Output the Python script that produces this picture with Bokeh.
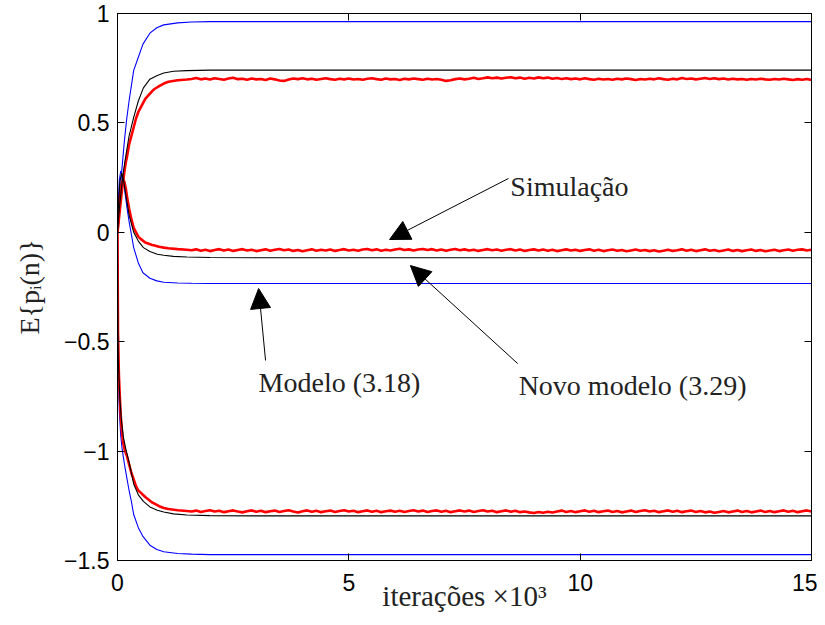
import numpy as np
from bokeh.plotting import figure
from bokeh.models import (Range1d, FixedTicker, LinearAxis, CustomJSTickFormatter,
                          Arrow, NormalHead, Label)
from bokeh.embed import file_html
from bokeh.resources import INLINE

# ---------------- data (x in thousands of iterations) ----------------
# Modelo (3.18) - blue
blue_x = [0, 0.01, 0.02, 0.04, 0.07, 0.1, 0.15, 0.2, 0.25, 0.3, 0.35, 0.45, 0.55, 0.7,
          0.85, 1.0, 1.3, 1.6, 2.0, 3.0, 15.0]
blue_top = [0, 0.04, 0.07, 0.13, 0.22, 0.3, 0.42, 0.52, 0.6, 0.67, 0.74, 0.8, 0.86, 0.91,
            0.935, 0.948, 0.957, 0.961, 0.963, 0.963, 0.963]
blue_mid = [0, 0.09, 0.15, 0.24, 0.28, 0.26, 0.2, 0.12, 0.05, -0.01, -0.07, -0.14, -0.185, -0.21,
            -0.222, -0.228, -0.232, -0.233, -0.234, -0.234, -0.234]
blue_bot = [0, -0.5, -0.65, -0.82, -0.93, -0.99, -1.06, -1.12, -1.18, -1.23, -1.29, -1.35, -1.39, -1.43,
            -1.45, -1.46, -1.468, -1.471, -1.473, -1.473, -1.473]

# Novo modelo (3.29) - black
black_x = [0, 0.01, 0.02, 0.05, 0.09, 0.13, 0.18, 0.25, 0.35, 0.45, 0.56, 0.7, 0.86, 1.0,
           1.21, 1.5, 2.0, 3.0, 15.0]
black_top = [0, 0.03, 0.06, 0.13, 0.21, 0.28, 0.35, 0.44, 0.525, 0.6, 0.66, 0.7, 0.717, 0.728,
             0.736, 0.739, 0.741, 0.741, 0.741]
black_mid = [0, 0.07, 0.12, 0.23, 0.27, 0.24, 0.17, 0.08, 0.0, -0.04, -0.07, -0.088, -0.1, -0.105,
             -0.11, -0.113, -0.115, -0.116, -0.116]
black_bot = [0, -0.45, -0.6, -0.76, -0.87, -0.94, -0.99, -1.05, -1.15, -1.2, -1.23, -1.255, -1.27, -1.278,
             -1.287, -1.292, -1.295, -1.296, -1.296]

# Simulação - red (noisy)
red_x_early = [0, 0.01, 0.03, 0.05, 0.07, 0.1, 0.12, 0.15, 0.18, 0.2, 0.25, 0.3, 0.35, 0.4, 0.45,
               0.5, 0.6, 0.75, 0.8, 0.9, 1.0, 1.1, 1.3, 1.5]
red_top_early = [0, 0.02, 0.06, 0.1, 0.14, 0.2, 0.23, 0.28, 0.32, 0.34, 0.4, 0.44, 0.48, 0.52, 0.55,
                 0.57, 0.61, 0.645, 0.655, 0.668, 0.68, 0.688, 0.695, 0.698]
red_mid_early = [0, 0.04, 0.1, 0.15, 0.2, 0.23, 0.24, 0.23, 0.2, 0.17, 0.11, 0.06, 0.02, -0.0, -0.02,
                 -0.03, -0.047, -0.058, -0.06, -0.066, -0.07, -0.073, -0.077, -0.08]
red_bot_early = [0, -0.45, -0.65, -0.75, -0.84, -0.92, -0.96, -0.99, -1.01, -1.02, -1.06, -1.1, -1.13, -1.16, -1.18,
                 -1.19, -1.21, -1.235, -1.24, -1.252, -1.26, -1.265, -1.27, -1.274]

red_x_late = [1.6, 1.7, 1.8, 1.9, 2.0, 2.1, 2.2, 2.3, 2.4, 2.5, 2.6, 2.7, 2.8, 2.9, 3.0, 3.1, 3.2, 3.3,
              3.4, 3.5, 3.6, 3.7, 3.8, 3.9, 4.0, 4.1, 4.2, 4.3, 4.4, 4.5, 4.6, 4.7, 4.8, 4.9, 5.0, 5.1,
              5.2, 5.3, 5.4, 5.5, 5.6, 5.7, 5.8, 5.9, 6.0, 6.1, 6.2, 6.3, 6.4, 6.5, 6.6, 6.7, 6.8, 6.9,
              7.0, 7.1, 7.2, 7.3, 7.4, 7.5, 7.6, 7.7, 7.8, 7.9, 8.0, 8.1, 8.2, 8.3, 8.4, 8.5, 8.6, 8.7,
              8.8, 8.9, 9.0, 9.1, 9.2, 9.3, 9.4, 9.5, 9.6, 9.7, 9.8, 9.9, 10.0, 10.1, 10.2, 10.3, 10.4,
              10.5, 10.6, 10.7, 10.8, 10.9, 11.0, 11.1, 11.2, 11.3, 11.4, 11.5, 11.6, 11.7, 11.8, 11.9,
              12.0, 12.1, 12.2, 12.3, 12.4, 12.5, 12.6, 12.7, 12.8, 12.9, 13.0, 13.1, 13.2, 13.3, 13.4,
              13.5, 13.6, 13.7, 13.8, 13.9, 14.0, 14.1, 14.2, 14.3, 14.4, 14.5, 14.6, 14.7, 14.8, 14.9, 15.0]
red_top_late = [0.701, 0.705, 0.699, 0.703, 0.698, 0.704, 0.701, 0.697, 0.703, 0.706, 0.7, 0.702, 0.697, 0.703,
                0.699, 0.701, 0.696, 0.703, 0.699, 0.694, 0.692, 0.698, 0.703, 0.7, 0.704, 0.699, 0.702, 0.697,
                0.701, 0.704, 0.7, 0.697, 0.702, 0.699, 0.703, 0.698, 0.701, 0.697, 0.702, 0.704, 0.7, 0.697,
                0.703, 0.699, 0.701, 0.696, 0.702, 0.699, 0.703, 0.7, 0.697, 0.702, 0.698, 0.701, 0.697,
                0.692, 0.695, 0.7, 0.703, 0.699, 0.702, 0.706, 0.701, 0.704, 0.708, 0.704, 0.707, 0.703,
                0.706, 0.709, 0.704, 0.707, 0.702, 0.706, 0.703, 0.708, 0.704, 0.707, 0.702, 0.705, 0.701,
                0.704, 0.7, 0.703, 0.699, 0.704, 0.7, 0.697, 0.702, 0.698, 0.701, 0.697, 0.702, 0.699, 0.703,
                0.7, 0.696, 0.701, 0.698, 0.702, 0.699, 0.704, 0.7, 0.697, 0.702, 0.699, 0.705, 0.701, 0.703,
                0.699, 0.702, 0.705, 0.701, 0.704, 0.7, 0.703, 0.698, 0.702, 0.699, 0.701, 0.697, 0.701,
                0.698, 0.702, 0.699, 0.697, 0.701, 0.698, 0.702, 0.699, 0.696, 0.7, 0.697, 0.701, 0.696]
red_mid_late = [-0.082, -0.078, -0.084, -0.08, -0.086, -0.081, -0.077, -0.083, -0.079, -0.085, -0.081, -0.077,
                -0.083, -0.08, -0.086, -0.082, -0.078, -0.084, -0.08, -0.076, -0.082, -0.079, -0.085, -0.081,
                -0.087, -0.082, -0.078, -0.084, -0.08, -0.083, -0.079, -0.085, -0.081, -0.077, -0.083, -0.08,
                -0.084, -0.079, -0.076, -0.082, -0.078, -0.084, -0.08, -0.083, -0.079, -0.075, -0.081, -0.078,
                -0.083, -0.079, -0.076, -0.081, -0.077, -0.083, -0.079, -0.084, -0.08, -0.076, -0.082, -0.078,
                -0.083, -0.08, -0.085, -0.081, -0.077, -0.082, -0.079, -0.084, -0.08, -0.077, -0.083, -0.079,
                -0.085, -0.081, -0.078, -0.083, -0.079, -0.084, -0.08, -0.086, -0.082, -0.078, -0.083, -0.08,
                -0.085, -0.081, -0.078, -0.084, -0.08, -0.086, -0.082, -0.079, -0.084, -0.081, -0.087, -0.083,
                -0.079, -0.084, -0.081, -0.086, -0.082, -0.088, -0.084, -0.08, -0.085, -0.082, -0.078, -0.084,
                -0.08, -0.086, -0.082, -0.078, -0.084, -0.081, -0.087, -0.083, -0.079, -0.085, -0.081, -0.086,
                -0.082, -0.079, -0.085, -0.081, -0.087, -0.083, -0.08, -0.086, -0.082, -0.079, -0.084, -0.08, -0.078,
                -0.083, -0.08]
red_bot_late = [-1.276, -1.272, -1.278, -1.274, -1.27, -1.276, -1.273, -1.279, -1.275, -1.271, -1.276, -1.28,
                -1.275, -1.271, -1.277, -1.273, -1.279, -1.275, -1.272, -1.278, -1.274, -1.27, -1.276, -1.281,
                -1.275, -1.271, -1.277, -1.273, -1.279, -1.275, -1.272, -1.278, -1.274, -1.27, -1.276, -1.273,
                -1.279, -1.275, -1.271, -1.277, -1.273, -1.279, -1.275, -1.272, -1.277, -1.273, -1.278, -1.274,
                -1.27, -1.276, -1.272, -1.278, -1.274, -1.271, -1.277, -1.273, -1.279, -1.275, -1.271, -1.276,
                -1.272, -1.278, -1.274, -1.27, -1.276, -1.273, -1.279, -1.275, -1.271, -1.277, -1.273, -1.279,
                -1.276, -1.28, -1.283, -1.278, -1.282, -1.277, -1.281, -1.276, -1.272, -1.278, -1.274, -1.279,
                -1.275, -1.271, -1.277, -1.273, -1.279, -1.275, -1.272, -1.278, -1.274, -1.28, -1.276, -1.272,
                -1.278, -1.274, -1.27, -1.276, -1.273, -1.279, -1.275, -1.271, -1.277, -1.273, -1.279, -1.275,
                -1.272, -1.278, -1.274, -1.28, -1.276, -1.282, -1.278, -1.274, -1.28, -1.276, -1.272, -1.278,
                -1.274, -1.28, -1.276, -1.272, -1.278, -1.274, -1.279, -1.275, -1.271, -1.277, -1.273, -1.279,
                -1.275, -1.271, -1.276]

x_ticks = [0, 5, 10, 15]
y_ticks = [-1.5, -1, -0.5, 0, 0.5, 1]

# annotation positions (data units)
ann_sim = dict(text="Simulação", tx=8.49, ty=0.209, xs=8.45, ys=0.246, xe=5.88, ye=-0.033)
ann_novo = dict(text="Novo modelo (3.29)", tx=8.67, ty=-0.70, xs=8.65, ys=-0.60, xe=6.33, ye=-0.152)
ann_mod = dict(text="Modelo (3.18)", tx=3.05, ty=-0.686, xs=3.20, ys=-0.586, xe=3.05, ye=-0.257)

# ---------------- figure ----------------
SERIF = "Liberation Serif"
SANS = "Liberation Sans"

p = figure(frame_width=694, frame_height=547, output_backend="svg", toolbar_location=None,
           x_range=Range1d(0, 15), y_range=Range1d(-1.5, 1),
           min_border_left=117, min_border_top=13, min_border_right=6, min_border_bottom=57,
           background_fill_color="white", border_fill_color="white")
p.grid.visible = False
p.outline_line_color = "black"
p.outline_line_width = 1

fmt = CustomJSTickFormatter(code="return tick < 0 ? '\\u2212' + Math.abs(tick) : String(tick);")
blank = CustomJSTickFormatter(code="return '';")

def style_axis(ax, ticks, labels=True):
    ax.ticker = FixedTicker(ticks=ticks)
    ax.major_tick_in = 7
    ax.major_tick_out = 0
    ax.minor_tick_line_color = None
    ax.axis_line_color = "black"
    ax.major_tick_line_color = "black"
    if labels:
        ax.formatter = fmt
        ax.major_label_text_font = SANS
        ax.major_label_text_font_size = "23px"
        ax.major_label_text_color = "black"
    else:
        ax.formatter = blank
        ax.major_label_standoff = 0

style_axis(p.xaxis[0], x_ticks)
style_axis(p.yaxis[0], y_ticks)
p.xaxis[0].major_label_standoff = 13
p.yaxis[0].major_label_standoff = 8

p.xaxis[0].axis_label = "iterações ×10³"
p.xaxis[0].axis_label_text_font = SERIF
p.xaxis[0].axis_label_text_font_style = "normal"
p.xaxis[0].axis_label_text_font_size = "29px"
p.xaxis[0].axis_label_text_color = "#222222"
p.xaxis[0].axis_label_standoff = -14

p.yaxis[0].axis_label = "E{pᵢ(n)}"
p.yaxis[0].axis_label_text_font = SERIF
p.yaxis[0].axis_label_text_font_style = "normal"
p.yaxis[0].axis_label_text_font_size = "28px"
p.yaxis[0].axis_label_text_color = "#222222"
p.yaxis[0].axis_label_standoff = 16

ax_top = LinearAxis()
style_axis(ax_top, x_ticks, labels=False)
p.add_layout(ax_top, "above")
ax_right = LinearAxis()
style_axis(ax_right, y_ticks, labels=False)
p.add_layout(ax_right, "right")

# lines
for ys in (blue_top, blue_mid, blue_bot):
    p.line(blue_x, ys, line_color="#0000ff", line_width=1.1)
red_x = red_x_early + red_x_late
for ys in (red_top_early + red_top_late, red_mid_early + red_mid_late, red_bot_early + red_bot_late):
    p.line(red_x, ys, line_color="#ff0000", line_width=2.6)
for ys in (black_top, black_mid, black_bot):
    p.line(black_x, ys, line_color="black", line_width=1.1)

for a in (ann_sim, ann_novo, ann_mod):
    p.add_layout(Arrow(end=NormalHead(size=20, fill_color="black", line_color="black"),
                       x_start=a["xs"], y_start=a["ys"], x_end=a["xe"], y_end=a["ye"],
                       line_color="black", line_width=1))
    p.add_layout(Label(x=a["tx"], y=a["ty"], text=a["text"], text_font=SERIF,
                       text_font_size="28px", text_color="#222222",
                       text_baseline="alphabetic", text_align="left"))

open("out.html", "w").write(file_html(p, INLINE))
